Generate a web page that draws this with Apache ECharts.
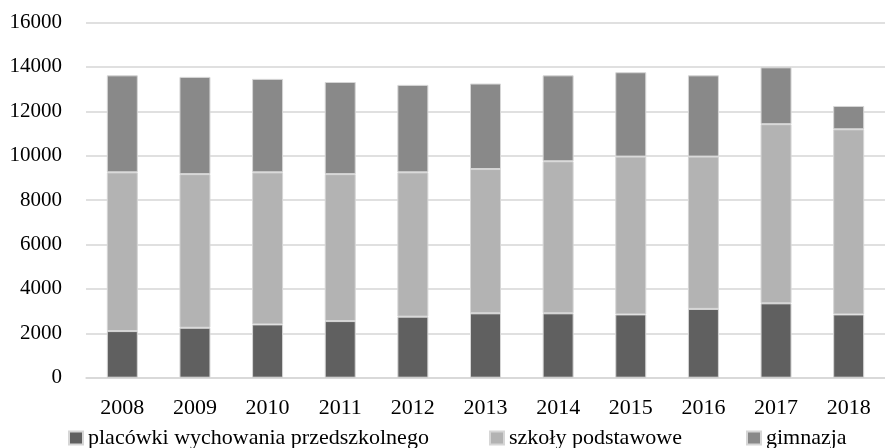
<!DOCTYPE html>
<html>
<head>
<meta charset="utf-8">
<title>Wykres</title>
<script src="https://cdn.jsdelivr.net/npm/echarts@6/dist/echarts.min.js"></script>
<style>
  html, body { margin: 0; padding: 0; background: #fff; }
  #chart { width: 885px; height: 448px; }
</style>
</head>
<body>
<div id="chart"></div>
<script>
// kategorie (lata)
const years = ['2008', '2009', '2010', '2011', '2012', '2013', '2014', '2015', '2016', '2017', '2018'];

// serie
const przedszkola = [2100, 2250, 2400, 2550, 2750, 2900, 2900, 2850, 3100, 3350, 2850];
const podstawowe = [7150, 6920, 6850, 6620, 6500, 6500, 6850, 7110, 6860, 8070, 8340];
const gimnazja = [4370, 4380, 4210, 4150, 3940, 3850, 3870, 3800, 3660, 2560, 1050];

const seriesNames = ['placówki wychowania przedszkolnego', 'szkoły podstawowe', 'gimnazja'];
const colors = ['#606060', '#b3b3b3', '#898989'];

const font = '"Liberation Serif", "DejaVu Serif", serif';

const chart = echarts.init(document.getElementById('chart'));

const makeSeries = (name, data, color) => ({
  name: name,
  type: 'bar',
  stack: 'total',
  data: data,
  barWidth: 31,
  itemStyle: { color: color, borderColor: '#d6d6d6', borderWidth: 1 },
});

// każda pozycja legendy osobno, żeby trzymać odstępy z oryginału
const legendAt = (name, left) => ({
  data: [name],
  left: left,
  top: 427,
  itemWidth: 14,
  itemHeight: 13,
  itemGap: 0,
  padding: 0,
  icon: 'rect',
  textStyle: { fontFamily: font, fontSize: 22, color: '#000' },
});

chart.setOption({
  animation: false,
  color: colors,
  grid: { left: 86, top: 22.5, width: 808, bottom: 70.3, containLabel: false },
  legend: [
    legendAt(seriesNames[0], 68),
    legendAt(seriesNames[1], 489),
    legendAt(seriesNames[2], 746),
  ],
  xAxis: {
    type: 'category',
    data: years,
    axisLine: { lineStyle: { color: '#d6d6d6', width: 1.5 } },
    axisTick: { show: false },
    axisLabel: { fontFamily: font, fontSize: 22, color: '#000', margin: 20 },
  },
  yAxis: {
    type: 'value',
    min: 0,
    max: 16000,
    interval: 2000,
    axisLine: { show: false },
    axisTick: { show: false },
    splitLine: { lineStyle: { color: '#d6d6d6', width: 1.5 } },
    axisLabel: { fontFamily: font, fontSize: 21, color: '#000', margin: 24, formatter: (v) => String(v) },
  },
  series: [
    makeSeries(seriesNames[0], przedszkola, colors[0]),
    makeSeries(seriesNames[1], podstawowe, colors[1]),
    makeSeries(seriesNames[2], gimnazja, colors[2]),
  ],
});
</script>
</body>
</html>
